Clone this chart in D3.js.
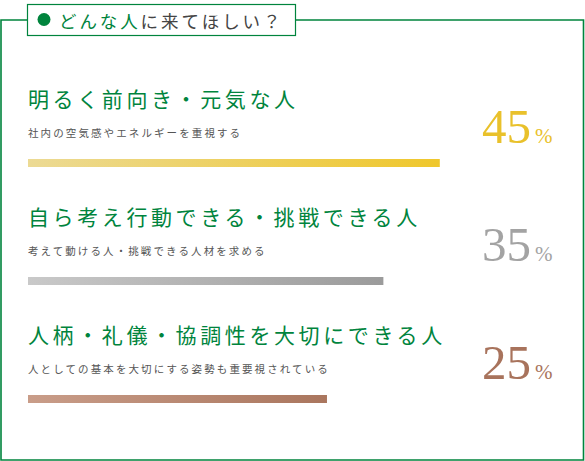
<!DOCTYPE html>
<html>
<head>
  <meta charset="utf-8">
  <title>どんな人に来てほしい？</title>
  <script src="https://cdn.jsdelivr.net/npm/d3@7/dist/d3.min.js"></script>
  <style>
    html, body { margin: 0; padding: 0; background: #fff; }
    svg { display: block; }
  </style>
</head>
<body>
  <svg width="585" height="461"></svg>

  <script>
    // データ
    const titleGreen = "どんな人";
    const titleRest = "に来てほしい？";
    const headings = [
      "明るく前向き・元気な人",
      "自ら考え行動できる・挑戦できる人",
      "人柄・礼儀・協調性を大切にできる人"
    ];
    const notes = [
      "社内の空気感やエネルギーを重視する",
      "考えて動ける人・挑戦できる人材を求める",
      "人としての基本を大切にする姿勢も重要視されている"
    ];
    const values = [45, 35, 25];

    const green = "#00843d";
    const jp = "'Noto Sans CJK JP', 'Noto Sans', sans-serif";
    const colors = [
      ["#ecda94", "#efc72c"],
      ["#c9c9c9", "#9b9b9b"],
      ["#c99d89", "#aa765e"]
    ];
    const numColors = ["#e9c12b", "#a3a3a3", "#a8735c"];

    const svg = d3.select("svg");
    const W = +svg.attr("width");
    const H = +svg.attr("height");

    // 枠とタイトル
    const box = { x: 27.5, y: 4.5, w: 268, h: 31 };
    const frameY = 20;
    svg.append("path")
      .attr("fill", "none")
      .attr("stroke", green)
      .attr("stroke-width", 1.6)
      .attr("d", `M${box.x},${frameY} H1 V${H - 1} H${W - 1.5} V${frameY} H${box.x + box.w}`);

    svg.append("rect")
      .attr("x", box.x).attr("y", box.y)
      .attr("width", box.w).attr("height", box.h)
      .attr("fill", "#fff")
      .attr("stroke", green)
      .attr("stroke-width", 1.2);

    svg.append("circle")
      .attr("cx", 44).attr("cy", 19.5).attr("r", 6.5)
      .attr("fill", green);

    const title = svg.append("text")
      .attr("x", 59).attr("y", 28)
      .attr("font-family", jp)
      .attr("font-size", 17.5)
      .attr("letter-spacing", 2.9);
    title.append("tspan").attr("fill", green).text(titleGreen);
    title.append("tspan").attr("fill", "#444").text(titleRest);

    // 行
    const y = d3.scaleBand()
      .domain(d3.range(values.length))
      .range([50, 404]);

    const w = d3.scaleLinear()
      .domain([-28, 50])
      .range([0, 440]);

    const defs = svg.append("defs");
    colors.forEach((c, i) => {
      const g = defs.append("linearGradient")
        .attr("id", "grad" + i)
        .attr("x1", "0%").attr("x2", "100%");
      g.append("stop").attr("offset", "0%").attr("stop-color", c[0]);
      g.append("stop").attr("offset", "100%").attr("stop-color", c[1]);
    });

    const rows = svg.selectAll("g.row")
      .data(values)
      .enter()
      .append("g")
      .attr("class", "row")
      .attr("transform", (d, i) => `translate(0,${y(i)})`);

    rows.append("text")
      .attr("x", 28).attr("y", 57)
      .attr("font-family", jp)
      .attr("font-size", 21)
      .attr("letter-spacing", 3.6)
      .attr("fill", green)
      .text((d, i) => headings[i]);

    rows.append("text")
      .attr("x", 28).attr("y", 87)
      .attr("font-family", jp)
      .attr("font-size", 10.5)
      .attr("letter-spacing", 2.1)
      .attr("fill", "#555")
      .text((d, i) => notes[i]);

    rows.append("rect")
      .attr("x", 28).attr("y", 109)
      .attr("width", d => w(d))
      .attr("height", 8)
      .attr("fill", (d, i) => `url(#grad${i})`);

    const pct = rows.append("text")
      .attr("x", 482).attr("y", 93)
      .attr("font-family", "'Liberation Serif', 'DejaVu Serif', serif")
      .attr("fill", (d, i) => numColors[i]);
    pct.append("tspan")
      .attr("font-size", 49)
      .text(d => d);
    pct.append("tspan")
      .attr("dx", 4)
      .attr("font-size", 21)
      .text("%");
  </script>
</body>
</html>
